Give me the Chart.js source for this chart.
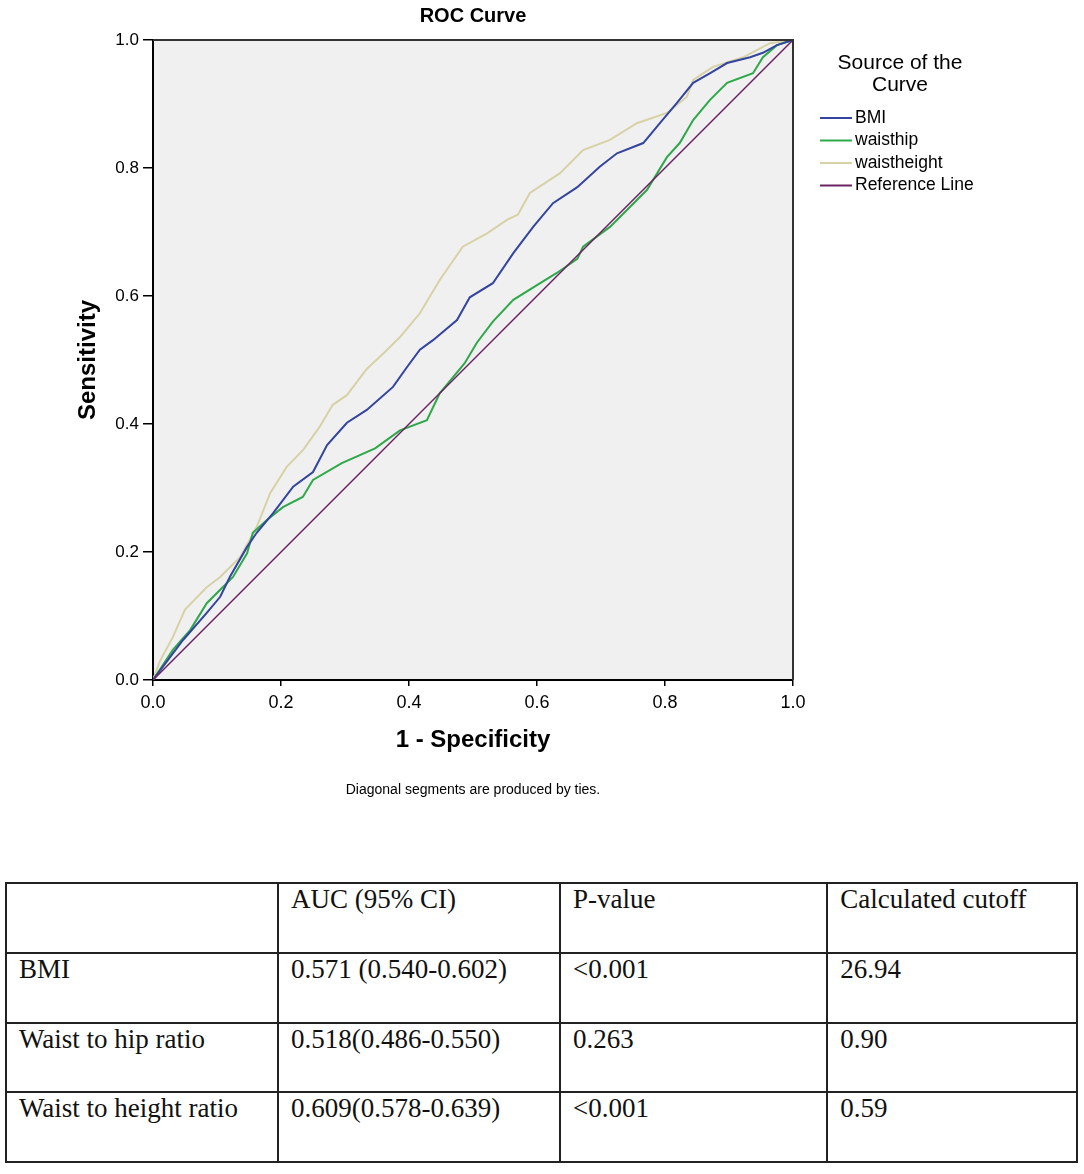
<!DOCTYPE html>
<html>
<head>
<meta charset="utf-8">
<title>ROC Curve</title>
<script src="https://cdn.jsdelivr.net/npm/chart.js@4.4.0/dist/chart.umd.min.js"></script>
<style>
  body { margin: 0; background: #fff; }
  #wrap { position: relative; width: 1084px; height: 1174px; }
  #roc { position: absolute; left: 0; top: 0; }
  table {
    position: absolute; left: 5px; top: 882px;
    width: 1073px; height: 281px;
    border-collapse: collapse;
    font-family: "Liberation Serif", "Times New Roman", serif;
    font-size: 27px; color: #111;
  }
  td { border: 2px solid #222; vertical-align: top; padding: 0 0 0 12px; line-height: 30px; }
</style>
</head>
<body>
<div id="wrap">
  <canvas id="roc" width="1084" height="830"></canvas>
  <table id="aucTable"></table>
</div>
<script>
// ROC points (1 - specificity, sensitivity)
const bmiX = [0, 0.027, 0.047, 0.084, 0.105, 0.12, 0.147, 0.162, 0.188, 0.219, 0.25, 0.272, 0.303, 0.334, 0.375, 0.397, 0.417, 0.4375, 0.475, 0.495, 0.531, 0.563, 0.594, 0.625, 0.663, 0.698, 0.725, 0.766, 0.792, 0.819, 0.844, 0.87, 0.897, 0.933, 0.953, 0.975, 1];
const bmiY = [0, 0.036, 0.0625, 0.105, 0.13, 0.161, 0.208, 0.23, 0.261, 0.302, 0.325, 0.367, 0.402, 0.422, 0.458, 0.489, 0.516, 0.531, 0.5625, 0.598, 0.62, 0.667, 0.708, 0.745, 0.77, 0.802, 0.823, 0.839, 0.87, 0.902, 0.933, 0.948, 0.964, 0.973, 0.98, 0.992, 1];

const whipX = [0, 0.031, 0.058, 0.084, 0.105, 0.125, 0.147, 0.156, 0.178, 0.203, 0.234, 0.25, 0.295, 0.347, 0.386, 0.428, 0.448, 0.487, 0.506, 0.531, 0.563, 0.605, 0.631, 0.663, 0.672, 0.714, 0.772, 0.803, 0.823, 0.844, 0.87, 0.897, 0.9375, 0.953, 0.975, 1];
const whipY = [0, 0.047, 0.078, 0.12, 0.141, 0.161, 0.198, 0.23, 0.25, 0.27, 0.286, 0.3125, 0.339, 0.362, 0.39, 0.406, 0.448, 0.495, 0.527, 0.56, 0.594, 0.62, 0.636, 0.658, 0.677, 0.708, 0.766, 0.817, 0.839, 0.875, 0.906, 0.933, 0.948, 0.973, 0.992, 1];

const wheightX = [0, 0.011, 0.031, 0.05, 0.084, 0.105, 0.136, 0.162, 0.183, 0.209, 0.235, 0.26, 0.281, 0.303, 0.334, 0.366, 0.386, 0.417, 0.448, 0.484, 0.522, 0.553, 0.57, 0.589, 0.636, 0.672, 0.714, 0.756, 0.803, 0.834, 0.844, 0.875, 0.922, 0.964, 1];
const wheightY = [0, 0.03, 0.067, 0.11, 0.145, 0.161, 0.192, 0.239, 0.292, 0.333, 0.36, 0.395, 0.43, 0.445, 0.486, 0.516, 0.536, 0.573, 0.625, 0.677, 0.698, 0.719, 0.727, 0.761, 0.792, 0.828, 0.844, 0.87, 0.886, 0.911, 0.9375, 0.958, 0.973, 0.995, 1];

const refX = [0, 1];
const refY = [0, 1];

const axisTicks = [0, 0.2, 0.4, 0.6, 0.8, 1.0];

// table below the chart
const tableHead = ["", "AUC (95% CI)", "P-value", "Calculated cutoff"];
const tableRows = [
  ["BMI", "0.571 (0.540-0.602)", "<0.001", "26.94"],
  ["Waist to hip ratio", "0.518(0.486-0.550)", "0.263", "0.90"],
  ["Waist to height ratio", "0.609(0.578-0.639)", "<0.001", "0.59"]
];
const colWidths = [276, 280, 270, 247];

function toPoints(xs, ys) {
  var pts = [];
  for (var i = 0; i < xs.length; i++) {
    pts.push({ x: xs[i], y: ys[i] });
  }
  return pts;
}

Chart.defaults.font.family = "'Liberation Sans', Arial, sans-serif";
Chart.defaults.color = '#000';

// grey plot area + closing border on top/right
const plotFrame = {
  id: 'plotFrame',
  beforeDraw(chart) {
    const a = chart.chartArea, ctx = chart.ctx;
    ctx.save();
    ctx.fillStyle = '#f0f0f0';
    ctx.fillRect(a.left, a.top, a.right - a.left, a.bottom - a.top);
    ctx.restore();
  },
  afterDraw(chart) {
    const a = chart.chartArea, ctx = chart.ctx;
    ctx.save();
    ctx.strokeStyle = '#333';
    ctx.lineWidth = 2;
    ctx.beginPath();
    ctx.moveTo(a.left, a.top);
    ctx.lineTo(a.right, a.top);
    ctx.lineTo(a.right, a.bottom);
    ctx.stroke();
    ctx.restore();
  }
};

// legend in the SPSS style, at the right of the plot
const sideLegend = {
  id: 'sideLegend',
  afterDraw(chart) {
    const ctx = chart.ctx;
    const a = chart.chartArea;
    const cx = a.right + 107;
    ctx.save();
    ctx.fillStyle = '#000';
    ctx.textAlign = 'center';
    ctx.textBaseline = 'middle';
    ctx.font = "21px 'Liberation Sans', Arial, sans-serif";
    ctx.fillText('Source of the', cx, a.top + 23);
    ctx.fillText('Curve', cx, a.top + 45);
    ctx.font = "17.5px 'Liberation Sans', Arial, sans-serif";
    ctx.textAlign = 'left';
    chart.data.datasets.forEach(function (ds, i) {
      var y = a.top + 78 + i * 22.5;
      ctx.strokeStyle = ds.borderColor;
      ctx.lineWidth = 2;
      ctx.beginPath();
      ctx.moveTo(a.right + 27, y);
      ctx.lineTo(a.right + 59, y);
      ctx.stroke();
      ctx.fillText(ds.label, a.right + 62, y);
    });
    ctx.restore();
  }
};

const ctx = document.getElementById('roc');
const chart = new Chart(ctx, {
  type: 'line',
  data: {
    datasets: [
      { label: 'BMI', data: toPoints(bmiX, bmiY), borderColor: '#34449f', borderWidth: 2, order: 1 },
      { label: 'waisthip', data: toPoints(whipX, whipY), borderColor: '#2fa84a', borderWidth: 2, order: 2 },
      { label: 'waistheight', data: toPoints(wheightX, wheightY), borderColor: '#d6d2a6', borderWidth: 2, order: 3 },
      { label: 'Reference Line', data: toPoints(refX, refY), borderColor: '#6b2362', borderWidth: 1.5, order: 0 }
    ]
  },
  options: {
    responsive: false,
    animation: false,
    parsing: false,
    elements: { point: { radius: 0 }, line: { tension: 0 } },
    layout: { padding: { left: 0, top: 0, right: 291, bottom: 21 } },
    plugins: {
      legend: { display: false },
      tooltip: { enabled: false },
      title: {
        display: true,
        text: 'ROC Curve',
        fullSize: false,
        font: { size: 20, weight: 'bold' },
        padding: { top: 4, bottom: 12 }
      },
      subtitle: {
        display: true,
        text: 'Diagonal segments are produced by ties.',
        position: 'bottom',
        fullSize: false,
        font: { size: 14 },
        padding: { top: 12, bottom: 10.2 }
      }
    },
    scales: {
      x: {
        type: 'linear',
        min: 0,
        max: 1,
        afterBuildTicks(scale) { scale.ticks = axisTicks.map(v => ({ value: v })); },
        afterFit(scale) { scale.height = 90; },
        ticks: { font: { size: 18 }, padding: 6, maxRotation: 0, callback: v => v.toFixed(1) },
        grid: { drawOnChartArea: false, tickLength: 6, color: '#000', lineWidth: 1.5 },
        border: { color: '#000', width: 2 },
        title: { display: true, text: '1 - Specificity', font: { size: 24, weight: 'bold' }, padding: { top: 0, bottom: 15 } }
      },
      y: {
        type: 'linear',
        min: 0,
        max: 1,
        afterBuildTicks(scale) { scale.ticks = axisTicks.map(v => ({ value: v })); },
        afterFit(scale) { scale.width = 153; },
        ticks: { font: { size: 17 }, padding: 4, callback: v => v.toFixed(1) },
        grid: { drawOnChartArea: false, tickLength: 10, color: '#000', lineWidth: 1.5 },
        border: { color: '#000', width: 2 },
        title: { display: true, text: 'Sensitivity', font: { size: 24, weight: 'bold' }, padding: { top: 73.6, bottom: 0 } }
      }
    }
  },
  plugins: [plotFrame, sideLegend]
});

// build the results table
var tbl = document.getElementById('aucTable');
var head = document.createElement('tr');
tableHead.forEach(function (h, j) {
  var td = document.createElement('td');
  td.textContent = h;
  td.style.width = colWidths[j] + 'px';
  head.appendChild(td);
});
tbl.appendChild(head);
tableRows.forEach(function (r) {
  var row = document.createElement('tr');
  r.forEach(function (c) {
    var td = document.createElement('td');
    td.textContent = c;
    row.appendChild(td);
  });
  tbl.appendChild(row);
});
</script>
</body>
</html>
